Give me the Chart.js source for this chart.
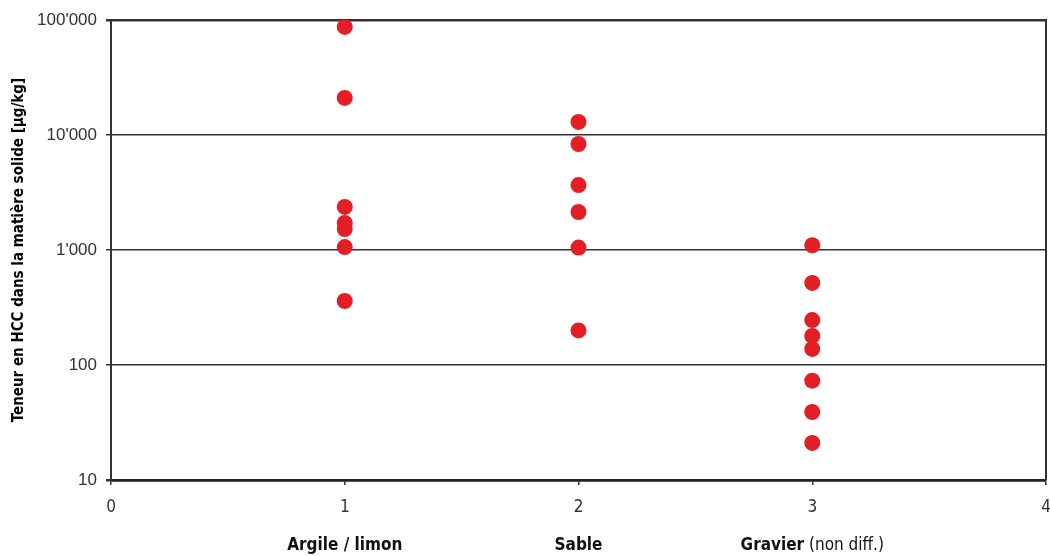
<!DOCTYPE html>
<html>
<head>
<meta charset="utf-8">
<script src="https://cdn.jsdelivr.net/npm/chart.js@4/dist/chart.umd.min.js"></script>
<style>
  body { margin: 0; background: #fff; }
  #wrap { width: 1050px; height: 556px; }
</style>
</head>
<body>
<div id="wrap"><canvas id="grafico"></canvas></div>
<script>
/* ===================== DATOS ===================== */
const posiciones = [1, 2, 3];
const nombresCategorias = ["Argile / limon", "Sable", "Gravier"];
const notasCategorias = ["", "", " (non diff.)"];

const valoresArgile = [87000, 21000, 2370, 1720, 1520, 1060, 360];
const valoresSable = [13000, 8350, 3670, 2140, 1050, 200];
const valoresGravier = [1100, 517, 246, 179, 138, 73, 39, 21];

const ticksY = [10, 100, 1000, 10000, 100000];
const ticksX = [0, 1, 2, 3, 4];

const tituloY = "Teneur en HCC dans la matière solide [µg/kg]";

const fuenteNarrow = "'Liberation Sans Narrow', 'DejaVu Sans Condensed', 'Roboto Condensed', sans-serif";
const rojo = "#e31e24";

/* ===================== FORMATO ===================== */
function formatoMiles(v) {
  return String(v).replace(/\B(?=(\d{3})+(?!\d))/g, "'");
}

function puntos(x, valores) {
  return valores.map((v) => ({ x: x, y: v }));
}

/* ===================== PLUGIN: ETIQUETAS Y BORDE ===================== */
const etiquetasCategorias = {
  id: "etiquetasCategorias",
  afterDraw(chart) {
    const { ctx, chartArea, scales } = chart;
    ctx.save();

    // borde derecho
    ctx.strokeStyle = "#333";
    ctx.lineWidth = 2;
    ctx.beginPath();
    ctx.moveTo(chartArea.right, chartArea.top - 1);
    ctx.lineTo(chartArea.right, chartArea.bottom);
    ctx.stroke();

    ctx.fillStyle = "#111";
    ctx.textBaseline = "middle";
    nombresCategorias.forEach((nombre, i) => {
      const cx = scales.x.getPixelForValue(posiciones[i]);
      ctx.font = "bold 17px " + fuenteNarrow;
      const w1 = ctx.measureText(nombre).width;
      ctx.font = "17px " + fuenteNarrow;
      const w2 = ctx.measureText(notasCategorias[i]).width;
      let x0 = cx - (w1 + w2) / 2;
      ctx.textAlign = "left";
      ctx.font = "bold 17px " + fuenteNarrow;
      ctx.fillText(nombre, x0, 546);
      ctx.font = "17px " + fuenteNarrow;
      ctx.fillText(notasCategorias[i], x0 + w1, 546);
    });
    ctx.restore();
  },
};

/* ===================== GRÁFICO ===================== */
new Chart(document.getElementById("grafico"), {
  type: "scatter",
  data: {
    datasets: [
      { label: nombresCategorias[0], data: puntos(posiciones[0], valoresArgile) },
      { label: nombresCategorias[1], data: puntos(posiciones[1], valoresSable) },
      { label: nombresCategorias[2], data: puntos(posiciones[2], valoresGravier) },
    ],
  },
  plugins: [etiquetasCategorias],
  options: {
    responsive: true,
    maintainAspectRatio: false,
    animation: false,
    layout: { autoPadding: false, padding: { top: 20, right: 4, left: 0, bottom: 0 } },
    elements: {
      point: {
        radius: 8,
        hoverRadius: 8,
        backgroundColor: rojo,
        borderWidth: 0,
      },
    },
    plugins: {
      legend: { display: false },
      tooltip: { enabled: false },
    },
    scales: {
      x: {
        type: "linear",
        min: 0,
        max: 4,
        afterBuildTicks: (s) => {
          s.ticks = ticksX.map((v) => ({ value: v }));
        },
        afterFit: (s) => {
          s.height = 76;
          s.paddingLeft = 0;
          s.paddingRight = 0;
        },
        grid: {
          drawOnChartArea: false,
          drawTicks: true,
          tickLength: 5,
          color: "#333",
          lineWidth: 1.5,
        },
        border: { display: true, color: "#222", width: 2.5 },
        ticks: {
          color: "#333",
          padding: 12,
          font: { family: fuenteNarrow, size: 17 },
          maxRotation: 0,
        },
      },
      y: {
        type: "logarithmic",
        min: 10,
        max: 100000,
        afterBuildTicks: (s) => {
          s.ticks = ticksY.map((v) => ({ value: v, major: true }));
        },
        afterFit: (s) => {
          s.width = 111;
          s.paddingTop = 0;
          s.paddingBottom = 0;
        },
        grid: {
          drawTicks: true,
          tickLength: 5,
          color: "#333",
          lineWidth: (ctx) =>
            ctx.tick && (ctx.tick.value === 100000 || ctx.tick.value === 10) ? 2.5 : 1.5,
        },
        border: { display: true, color: "#333", width: 2 },
        ticks: {
          color: "#333",
          padding: 9,
          font: { family: "'Liberation Sans', Arial, sans-serif", size: 17 },
          callback: (v) => formatoMiles(v),
        },
        title: {
          display: true,
          text: tituloY,
          color: "#000",
          padding: { top: 10, bottom: 0 },
          font: { family: fuenteNarrow, size: 15, weight: "bold" },
        },
      },
    },
  },
});
</script>
</body>
</html>
